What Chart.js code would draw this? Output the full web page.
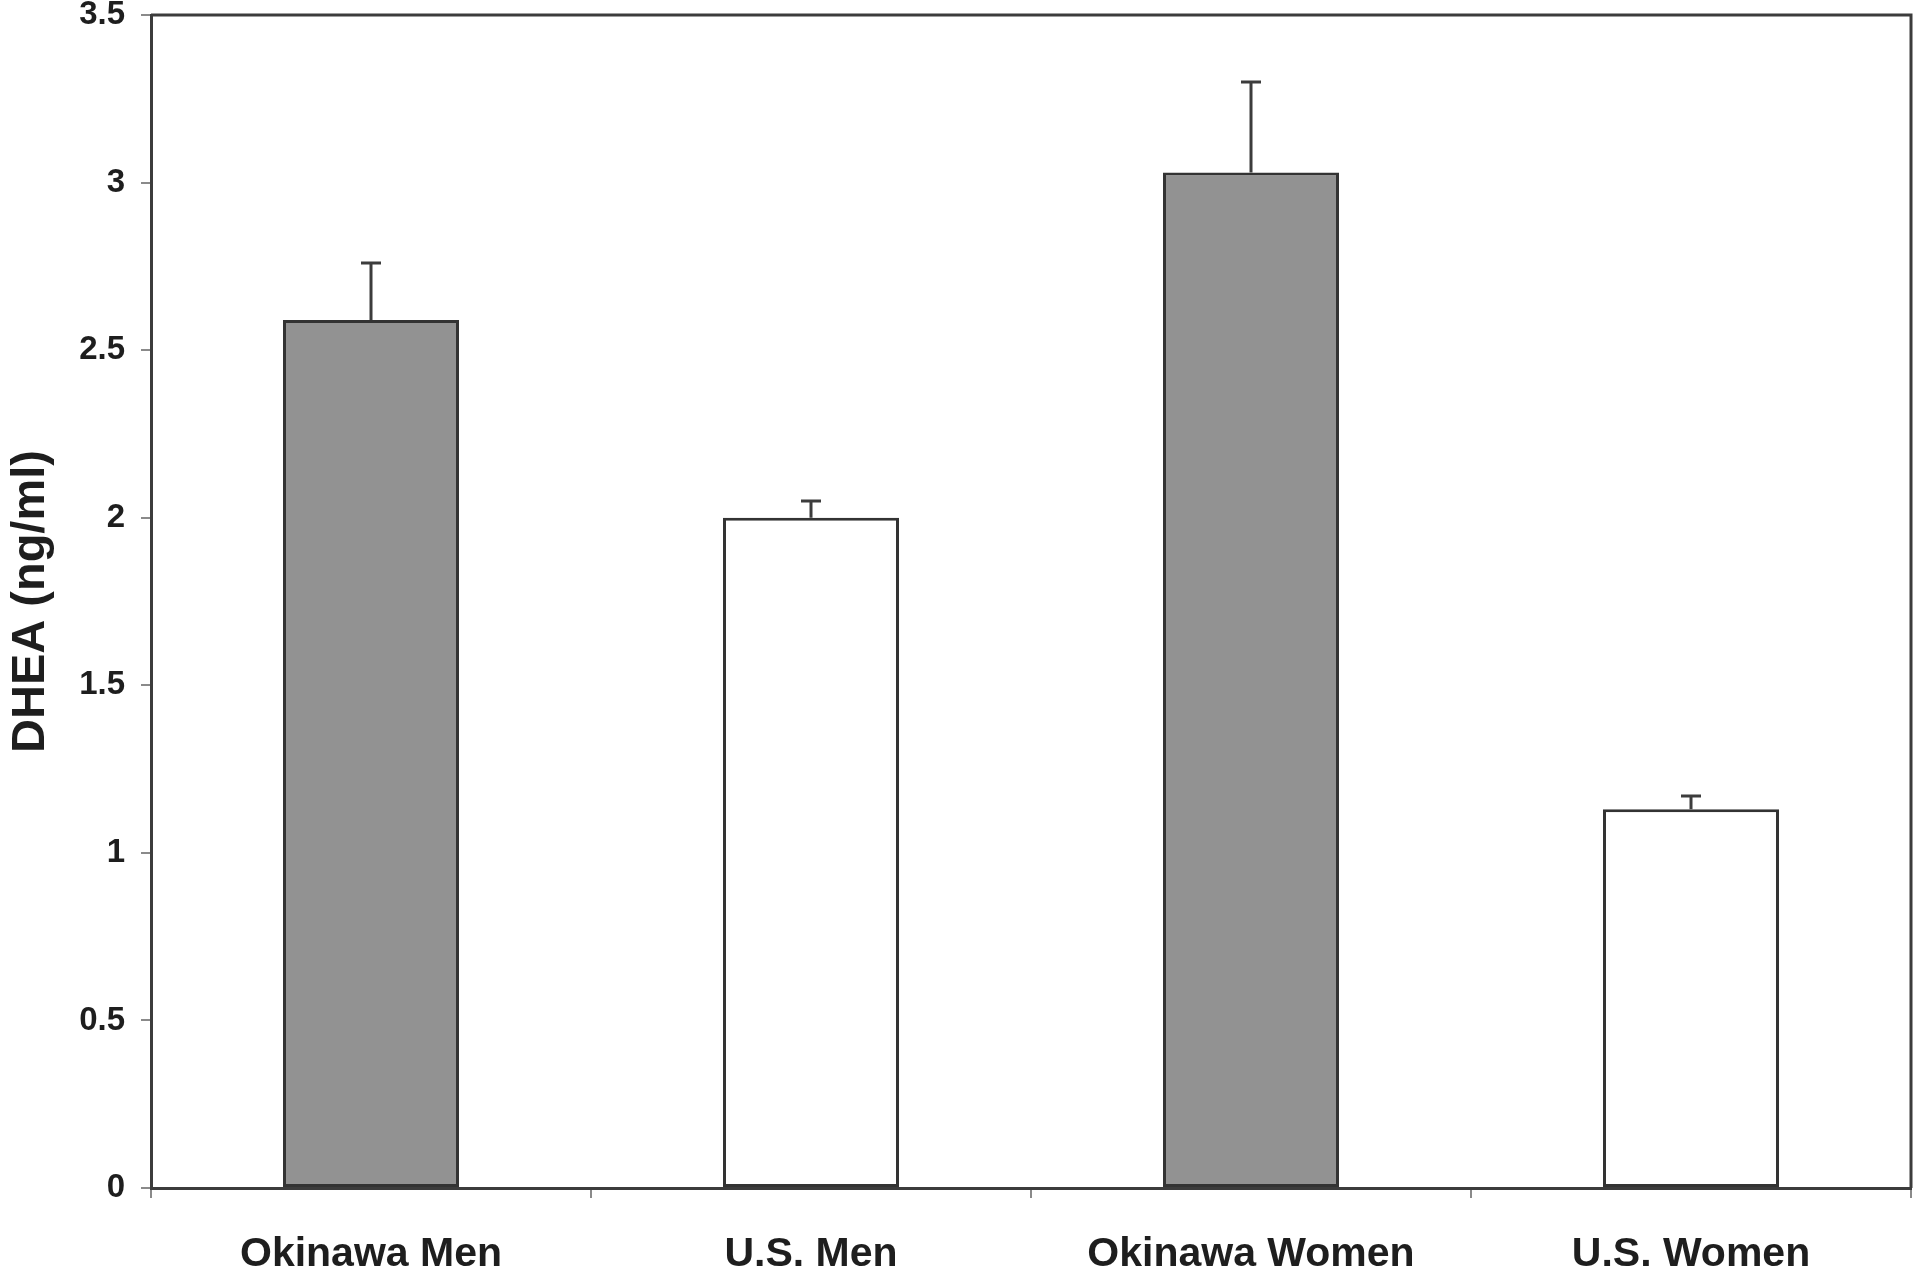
<!DOCTYPE html>
<html>
<head>
<meta charset="utf-8">
<script src="https://cdn.jsdelivr.net/npm/chart.js@4"></script>
<style>
  body { margin: 0; background: #fff; }
  #wrap { width: 1920px; height: 1270px; }
</style>
</head>
<body>
<div id="wrap"><canvas id="myChart" width="1920" height="1270"></canvas></div>
<script>
// data
const groups = ['Okinawa Men', 'U.S. Men', 'Okinawa Women', 'U.S. Women'];
const dheaMeans = [2.59, 2.00, 3.03, 1.13];
const dheaErrors = [0.17, 0.05, 0.27, 0.04]; // upper error bar only
const yTicks = [0, 0.5, 1, 1.5, 2, 2.5, 3, 3.5];
const barColors = ['#929292', '#ffffff', '#929292', '#ffffff'];

const axisColor = '#3c3c3c';
const textColor = '#1e1e1e';

// error bars + box around the plot area
const errorBars = {
  id: 'errorBars',
  afterDatasetsDraw(chart) {
    const ctx = chart.ctx;
    const y = chart.scales.y;
    const meta = chart.getDatasetMeta(0);
    ctx.save();
    ctx.strokeStyle = axisColor;
    ctx.lineWidth = 3;
    meta.data.forEach((bar, i) => {
      const yTop = y.getPixelForValue(dheaMeans[i] + dheaErrors[i]);
      const yBase = y.getPixelForValue(dheaMeans[i]);
      ctx.beginPath();
      ctx.moveTo(bar.x, yBase);
      ctx.lineTo(bar.x, yTop);
      ctx.moveTo(bar.x - 10, yTop);
      ctx.lineTo(bar.x + 10, yTop);
      ctx.stroke();
    });
    const a = chart.chartArea;
    ctx.beginPath();
    ctx.moveTo(a.left, a.top);
    ctx.lineTo(a.right, a.top);
    ctx.lineTo(a.right, a.bottom);
    ctx.stroke();
    ctx.restore();
  }
};

const ctxBar = document.getElementById('myChart').getContext('2d');

new Chart(ctxBar, {
  type: 'bar',
  data: {
    labels: groups,
    datasets: [
      {
        label: 'DHEA',
        data: dheaMeans,
        backgroundColor: barColors,
        borderColor: '#333333',
        borderWidth: 3,
        borderSkipped: false,
        barPercentage: 0.4,
        categoryPercentage: 1.0
      }
    ]
  },
  options: {
    responsive: false,
    devicePixelRatio: 1,
    animation: false,
    layout: { padding: { top: 15, right: 9, left: 0, bottom: 0 } },
    plugins: {
      legend: { display: false },
      tooltip: { enabled: false }
    },
    scales: {
      x: {
        afterFit(scale) { scale.height = 82; },
        grid: {
          display: true,
          offset: true,
          drawOnChartArea: false,
          drawTicks: true,
          tickLength: 10,
          color: '#8a8a8a',
          lineWidth: 2
        },
        border: { display: true, color: axisColor, width: 3 },
        ticks: {
          color: textColor,
          padding: 32,
          font: { family: 'Liberation Sans', weight: 'bold', size: 41 }
        }
      },
      y: {
        min: 0,
        max: 3.5,
        afterFit(scale) {
          scale.width = 151;
          scale.paddingTop = 0;
          scale.paddingBottom = 0;
        },
        afterBuildTicks(scale) { scale.ticks = yTicks.map(v => ({ value: v })); },
        grid: {
          display: true,
          drawOnChartArea: false,
          drawTicks: true,
          tickLength: 10,
          color: '#8a8a8a',
          lineWidth: 2
        },
        border: { display: true, color: axisColor, width: 3 },
        ticks: {
          color: textColor,
          padding: 16,
          font: { family: 'Liberation Sans', weight: 'bold', size: 33 },
          callback: (v) => String(v)
        },
        title: {
          display: true,
          text: 'DHEA (ng/ml)',
          color: textColor,
          padding: { top: 3, bottom: 0 },
          font: { family: 'Liberation Sans', weight: 'bold', size: 47 }
        }
      }
    }
  },
  plugins: [errorBars]
});
</script>
</body>
</html>
